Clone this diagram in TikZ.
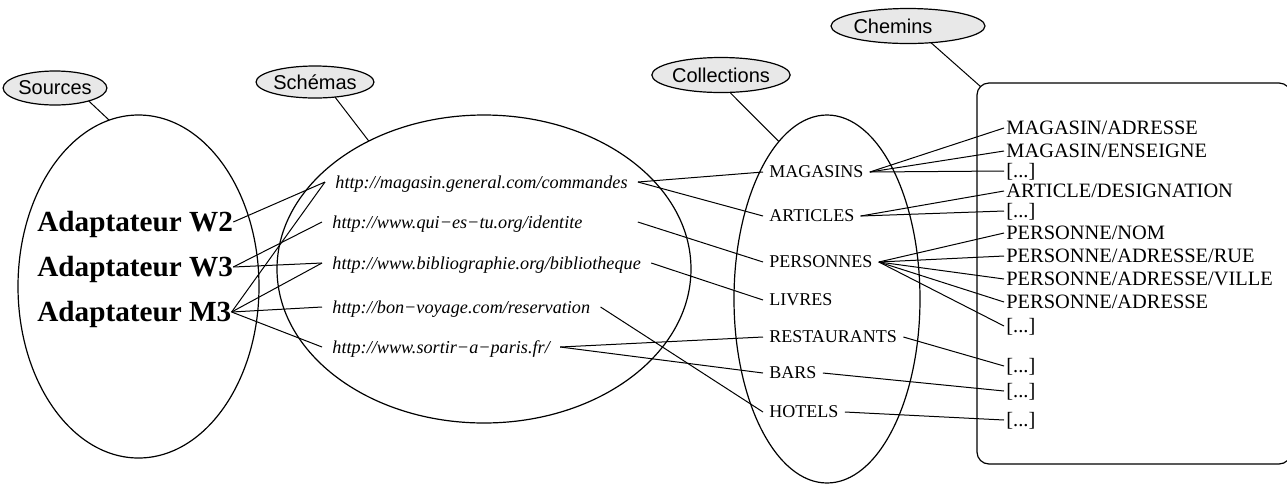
\documentclass[tikz,border=0pt]{standalone}
\usepackage{fontspec}
\setmainfont{Liberation Serif}
\newfontfamily\labelsans{Liberation Sans}
\usetikzlibrary{shapes.geometric}
\definecolor{tagfill}{gray}{0.91}

\begin{document}
\begin{tikzpicture}[x=0.5pt,y=-0.5pt,
  link/.style={line width=0.5pt},
  area/.style={draw, ellipse, line width=0.6pt, inner sep=0pt, outer sep=0pt},
  tag/.style={draw, ellipse, fill=tagfill, line width=0.6pt, inner sep=0pt, outer sep=0pt,
    font=\labelsans\fontsize{10}{12}\selectfont},
  adapter/.style={anchor=west, inner xsep=0pt, inner ysep=0pt, text height=9.6pt, text depth=0pt,
    font=\bfseries\fontsize{14.6}{17}\selectfont},
  schema/.style={anchor=west, inner xsep=5pt, inner ysep=0pt, text height=6pt, text depth=0pt,
    font=\itshape\fontsize{9.1}{11}\selectfont},
  coll/.style={anchor=west, inner xsep=3pt, inner ysep=0pt, text height=5.9pt, text depth=0pt,
    font=\fontsize{9}{11}\selectfont},
  route/.style={anchor=west, inner xsep=1pt, inner ysep=0pt, text height=6.7pt, text depth=0pt,
    font=\fontsize{10.2}{12}\selectfont}
]
\useasboundingbox (0,0) rectangle (1287,484);

% the three large groupings and the box of paths (its right side runs off the page)
\node[area, minimum width=120.5pt, minimum height=171.5pt] (srcarea) at (138.5,286.5) {};
\node[area, minimum width=207pt, minimum height=154pt] (scharea) at (484,269) {};
\node[area, minimum width=93pt, minimum height=184pt] (colarea) at (827,299) {};
\draw[line width=0.6pt, rounded corners=6pt] (977,83) rectangle (1291,464);
\coordinate (pathscorner) at (980.5,86.5);

% captions
\node[tag, minimum width=47pt, minimum height=17pt] (srctag) at (55,88) {Sources};
\node[tag, minimum width=52pt, minimum height=16pt] (schtag) at (315,82) {Schémas};
\node[tag, minimum width=66pt, minimum height=17.5pt] (coltag) at (721,75) {Collections};
\node[tag, minimum width=65pt, minimum height=17.5pt] (chetag) at (908,26) {Chemins\hspace*{15pt}};

\draw[link] (srctag.-21) -- (srcarea.100);
\draw[link] (schtag.-37) -- (scharea.132);
\draw[link] (coltag.-63) -- (colarea.107);
\draw[link] (chetag.-36) -- (pathscorner);

% adapters
\node[adapter] (w2) at (37,222) {Adaptateur W2};
\node[adapter] (w3) at (37,267) {Adaptateur W3};
\node[adapter] (m3) at (37,312) {Adaptateur M3};

% schemas
\node[schema] (u1) at (325,182) {http://magasin.general.com/commandes};
\node[schema] (u2) at (322,222) {http://www.qui−es−tu.org/identite};
\node[schema] (u3) at (322,263) {http://www.bibliographie.org/bibliotheque};
\node[schema] (u4) at (322,307) {http://bon−voyage.com/reservation};
\node[schema] (u5) at (322,347) {http://www.sortir−a−paris.fr/};

% collections
\node[coll] (c1) at (763,172) {MAGASINS};
\node[coll] (c2) at (763,216) {ARTICLES};
\node[coll] (c3) at (763,262) {PERSONNES};
\node[coll] (c4) at (763,300) {LIVRES};
\node[coll] (c5) at (763,337) {RESTAURANTS};
\node[coll] (c6) at (763,373) {BARS};
\node[coll] (c7) at (763,412) {HOTELS};

% paths
\node[route] (p1) at (1004,128) {MAGASIN/ADRESSE};
\node[route] (p2) at (1004,151) {MAGASIN/ENSEIGNE};
\node[route] (p3) at (1004,171) {[...]};
\node[route] (p4) at (1004,191) {ARTICLE/DESIGNATION};
\node[route] (p5) at (1004,211) {[...]};
\node[route] (p6) at (1004,233) {PERSONNE/NOM};
\node[route] (p7) at (1004,256) {PERSONNE/ADRESSE/RUE};
\node[route] (p8) at (1004,279) {PERSONNE/ADRESSE/VILLE};
\node[route] (p9) at (1004,302) {PERSONNE/ADRESSE};
\node[route] (p10) at (1004,326) {[...]};
\node[route] (p11) at (1004,366) {[...]};
\node[route] (p12) at (1004,391) {[...]};
\node[route] (p13) at (1004,420) {[...]};

% adapters to schemas
\draw[link] (w2.east) -- (u1.west);
\draw[link] (w3.east) -- (u2.west);
\draw[link] (w3.east) -- (u3.west);
\draw[link] (m3.east) -- (u1.west);
\draw[link] (m3.east) -- (u3.west);
\draw[link] (m3.east) -- (u4.west);
\draw[link] (m3.east) -- (u5.west);

% schemas to collections
\draw[link] (u1.east) -- (c1.west);
\draw[link] (u1.east) -- (c2.west);
\draw[link] ([xshift=22.5pt]u2.east) -- (c3.west);
\draw[link] (u3.east) -- (c4.west);
\draw[link] (u4.east) -- (c7.west);
\draw[link] (u5.east) -- (c5.west);
\draw[link] (u5.east) -- (c6.west);

% collections to paths
\foreach \p in {p1,p2,p3} \draw[link] (c1.east) -- (\p.west);
\foreach \p in {p4,p5} \draw[link] (c2.east) -- (\p.west);
\foreach \p in {p6,p7,p8,p9,p10} \draw[link] (c3.east) -- (\p.west);
\draw[link] (c5.east) -- (p11.west);
\draw[link] (c6.east) -- (p12.west);
\draw[link] (c7.east) -- (p13.west);
\end{tikzpicture}
\end{document}
